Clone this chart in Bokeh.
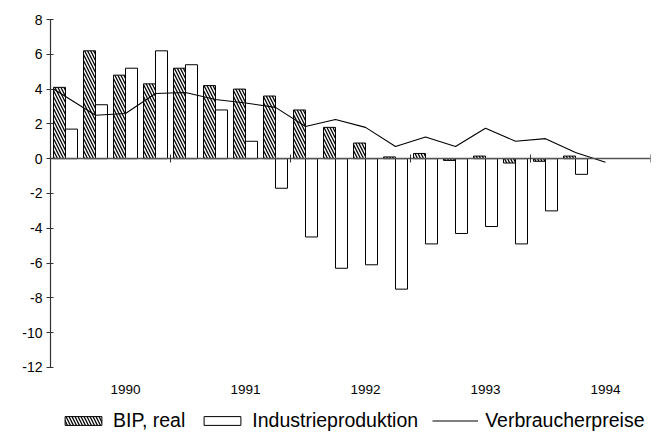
from bokeh.plotting import figure
from bokeh.models import (Range1d, LinearAxis, FixedTicker, Legend, LegendItem, Grid)
from bokeh.embed import file_html
from bokeh.resources import INLINE

# ---- data (quarterly growth rates, %) ----
quarters = list(range(18))
bip_real = [4.1, 6.2, 4.8, 4.3, 5.2, 4.2, 4.0, 3.6, 2.8, 1.8, 0.9, 0.1,
            0.3, -0.1, 0.15, -0.25, -0.15, 0.15]
industrie = [1.7, 3.1, 5.2, 6.2, 5.4, 2.8, 1.0, -1.7, -4.5, -6.3, -6.1, -7.5,
             -4.9, -4.3, -3.9, -4.9, -3.0, -0.9]
cpi_pos = [-0.4, 1, 2, 3, 4, 5, 6, 7, 8, 9, 10, 11, 12, 13, 14, 15, 16, 17, 18]
verbraucherpreise = [4.0, 2.5, 2.6, 3.75, 3.8, 3.4, 3.2, 2.95, 1.85, 2.25, 1.8,
                     0.7, 1.25, 0.7, 1.75, 1.0, 1.15, 0.35, -0.2]
year_labels = ["1990", "1991", "1992", "1993", "1994"]
year_pos = [2, 6, 10, 14, 18]
year_bounds = [-0.5, 3.5, 7.5, 11.5, 15.5, 19.5]
y_ticks = [8, 6, 4, 2, 0, -2, -4, -6, -8, -10, -12]
y_tick_labels = ["8", "6", "4", "2", "0", "-2", "-4", "-6", "-8", "-10", "-12"]

FONT = "Liberation Sans"

p = figure(width=663, height=436, output_backend="svg", toolbar_location=None,
           x_range=Range1d(-0.5, 19.5), y_range=Range1d(-15.97, 8),
           x_axis_location=None, y_axis_location=None,
           min_border_left=50, min_border_right=13, min_border_top=19,
           min_border_bottom=0)
p.outline_line_color = None
p.background_fill_color = "white"
p.border_fill_color = "white"
p.center = [c for c in p.center if not isinstance(c, Grid)]

# y axis (spans 8 .. -12 only)
yax = LinearAxis(ticker=FixedTicker(ticks=y_ticks), bounds=(-12, 8),
                 major_label_overrides={t: s for t, s in zip(y_ticks, y_tick_labels)},
                 axis_line_color="#333333", axis_line_width=1.2,
                 major_tick_line_color="#333333", major_tick_in=3, major_tick_out=4,
                 minor_tick_line_color=None, major_label_standoff=4,
                 major_label_text_font=FONT, major_label_text_font_size="14px",
                 major_label_text_color="black")
p.add_layout(yax, "left")

# year labels below the -12 line
xax = LinearAxis(fixed_location=-12, ticker=FixedTicker(ticks=year_pos),
                 major_label_overrides={t: s for t, s in zip(year_pos, year_labels)},
                 axis_line_color=None, major_tick_line_color=None,
                 minor_tick_line_color=None, major_tick_out=0, major_tick_in=0,
                 major_label_standoff=18,
                 major_label_text_font=FONT, major_label_text_font_size="13.5px",
                 major_label_text_color="black")
p.add_layout(xax, "below")

# zero line with year boundary ticks
zax = LinearAxis(fixed_location=0, ticker=FixedTicker(ticks=year_bounds),
                 axis_line_color="#555555", axis_line_width=1.5,
                 major_tick_line_color="#333333", major_tick_in=4, major_tick_out=4,
                 minor_tick_line_color=None, major_label_text_color=None,
                 major_label_text_font_size="1px")
p.add_layout(zax, "below")

r_bip = p.vbar(x=[q - 0.2 for q in quarters], width=0.4, top=bip_real, bottom=0,
               fill_color="white", line_color="black", line_width=1,
               hatch_pattern="\\", hatch_color="black", hatch_scale=6,
               hatch_weight=1.3)
r_ind = p.vbar(x=[q + 0.2 for q in quarters], width=0.4, top=industrie, bottom=0,
               fill_color="white", line_color="black", line_width=1)
r_cpi = p.line(x=cpi_pos, y=verbraucherpreise, line_color="black", line_width=1.1)

legend = Legend(items=[LegendItem(label="BIP, real", renderers=[r_bip]),
                       LegendItem(label="Industrieproduktion", renderers=[r_ind]),
                       LegendItem(label="Verbraucherpreise", renderers=[r_cpi])],
                orientation="horizontal", location=(10, 4), padding=0, margin=0,
                border_line_color=None, background_fill_alpha=0,
                label_text_font=FONT, label_text_font_size="19.5px",
                label_text_color="black",
                glyph_width=46, glyph_height=11, label_standoff=7, spacing=14)
p.add_layout(legend, "center")

open("out.html", "w").write(file_html(p, INLINE))
